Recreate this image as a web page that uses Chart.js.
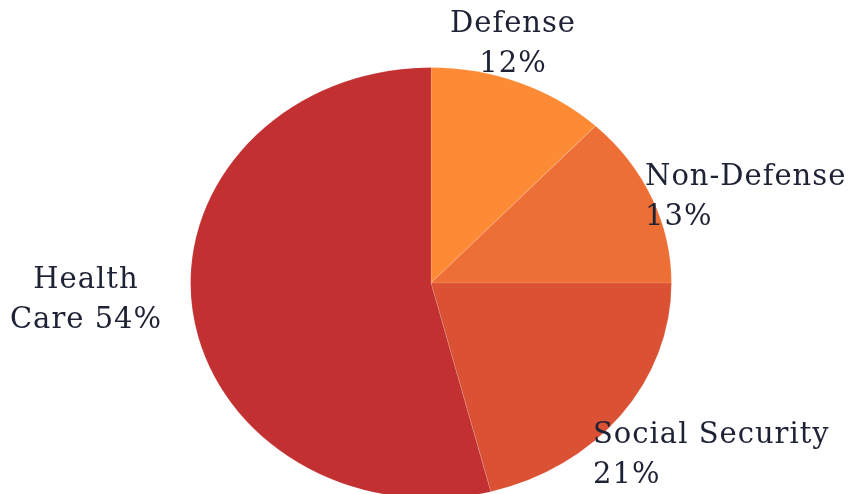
<!DOCTYPE html>
<html>
<head>
<meta charset="utf-8">
<script src="https://cdn.jsdelivr.net/npm/chart.js@4.4.1/dist/chart.umd.min.js"></script>
<style>
  html, body { margin: 0; padding: 0; background: #fff; overflow: hidden; }
  #wrap { position: relative; width: 862px; height: 520px; }
</style>
</head>
<body>
<div id="wrap"><canvas id="chart-budget"></canvas></div>
<script>
// Share of spending
const categories = ["Defense", "Non-Defense", "Social Security", "Health Care"];
const shares = [12, 13, 21, 54];
const sliceColors = ["#FD8B36", "#EE6F36", "#DA5133", "#C23032"];

// label text lines (the Health Care label wraps after the first word)
const labelLines = [
  ["Defense", "12%"],
  ["Non-Defense", "13%"],
  ["Social Security", "21%"],
  ["Health", "Care 54%"],
];

// the reference pie is a bit wider than tall
const stretchX = 241 / 216;

const labelFont = "29px 'DejaVu Serif', serif";
const labelColor = "#1E2235";
const lineHeight = 40;

// where each label sits, relative to the pie centre
const labelPlacement = [
  { dx: 82, dy: -259, align: "center" },
  { dx: 214, dy: -106, align: "left" },
  { dx: 162, dy: 152, align: "left" },
  { dx: -345, dy: -3, align: "center" },
];

const ellipsePlugin = {
  id: "ellipse",
  beforeDatasetsDraw(chart) {
    const arc = chart.getDatasetMeta(0).data[0];
    if (!arc) return;
    const ctx = chart.ctx;
    ctx.save();
    ctx.translate(arc.x, arc.y);
    ctx.scale(stretchX, 1);
    ctx.translate(-arc.x, -arc.y);
  },
  afterDatasetsDraw(chart) {
    chart.ctx.restore();
  },
};

const outsideLabels = {
  id: "outsideLabels",
  afterDraw(chart) {
    const arc = chart.getDatasetMeta(0).data[0];
    if (!arc) return;
    const ctx = chart.ctx;
    ctx.save();
    ctx.font = labelFont;
    ctx.fillStyle = labelColor;
    ctx.textBaseline = "middle";
    if ("letterSpacing" in ctx) ctx.letterSpacing = "1px";
    labelLines.forEach((lines, i) => {
      const p = labelPlacement[i];
      ctx.textAlign = p.align;
      lines.forEach((line, j) => {
        ctx.fillText(line, arc.x + p.dx, arc.y + p.dy + j * lineHeight);
      });
    });
    ctx.restore();
  },
};

new Chart(document.getElementById("chart-budget").getContext("2d"), {
  type: "pie",
  data: {
    labels: categories,
    datasets: [{
      data: shares,
      backgroundColor: sliceColors,
      borderColor: "rgba(255,255,255,0.12)",
      borderWidth: 1,
    }],
  },
  options: {
    responsive: true,
    maintainAspectRatio: false,
    animation: false,
    layout: { padding: { top: 67, bottom: 21, left: 0, right: 0 } },
    plugins: {
      legend: { display: false },
      tooltip: { enabled: false },
    },
  },
  plugins: [ellipsePlugin, outsideLabels],
});
</script>
</body>
</html>
